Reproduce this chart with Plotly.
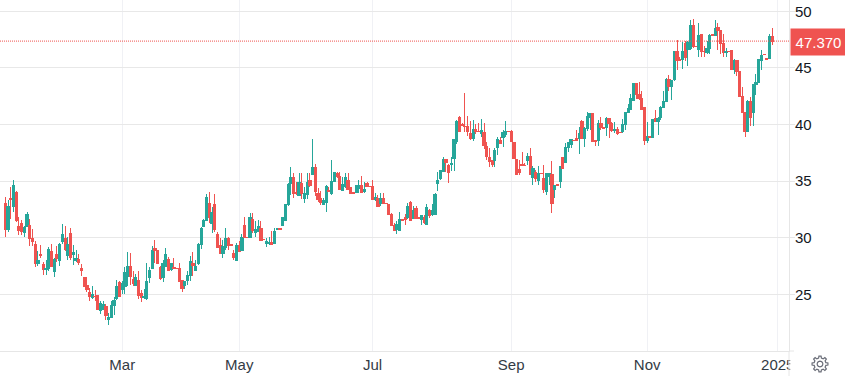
import math
import plotly.graph_objects as go

opens = [
33.0,30.7,33.5,32.75,34.0,31.0,31.3,30.5,31.0,31.05,
29.9,29.4,27.75,28.5,27.6,27.2,27.25,28.75,27.0,28.5,
27.95,29.65,29.95,28.45,30.35,28.5,27.95,28.05,27.25,26.45,
25.75,25.2,24.75,24.85,24.9,23.6,23.65,23.9,22.75,23.0,
24.05,24.6,26.05,25.45,25.7,26.6,27.5,26.3,25.75,26.2,
25.05,24.75,24.6,26.45,27.3,29.05,28.85,27.35,26.45,27.45,
28.05,27.2,27.4,27.3,27.25,26.2,25.8,26.25,26.65,27.7,
27.1,27.7,29.45,31.0,31.55,33.05,31.3,32.9,30.25,29.35,
28.6,29.15,29.95,29.38,28.65,28.0,29.3,28.9,31.05,30.05,
30.05,31.6,30.5,30.55,30.8,29.88,29.5,29.5,29.6,29.5,
30.7,30.78,31.1,31.5,32.9,34.75,35.3,34.0,33.75,34.75,
33.5,33.8,35.1,35.55,36.25,33.95,33.45,32.95,33.1,34.15,
33.95,35.0,35.65,35.4,34.2,34.55,35.1,34.4,34.0,34.0,
34.35,34.65,34.1,34.75,34.57,34.55,33.4,33.45,33.05,33.5,
33.05,32.9,32.05,31.1,30.75,30.65,31.6,31.8,31.8,33.1,
31.7,32.55,31.77,31.6,31.75,31.15,32.4,32.1,32.1,34.8,
35.2,35.85,36.95,36.35,36.45,37.0,38.5,40.65,40.0,39.85,
39.8,39.2,38.8,39.6,39.42,39.25,39.3,38.05,37.1,36.85,
36.8,37.95,38.6,38.85,39.15,39.42,39.4,38.45,36.95,36.0,
36.43,36.4,36.8,37.2,35.3,35.8,35.05,35.72,35.25,34.05,
35.45,35.55,34.25,34.67,35.0,37.1,36.65,38.0,38.2,38.63,
38.75,38.75,40.3,38.75,39.65,40.6,41.0,38.6,38.55,40.1,
39.72,39.7,40.55,40.1,39.45,39.55,39.32,39.35,40.0,41.05,
41.35,42.15,43.6,42.65,42.3,41.5,38.6,38.92,38.9,40.5,
40.3,40.65,41.55,42.05,43.95,43.4,43.95,46.45,45.72,45.75,
47.2,46.6,46.7,48.75,46.92,46.6,47.95,46.48,46.4,46.7,
47.92,47.9,48.55,48.3,47.2,46.4,46.47,46.5,44.9,45.65,
44.7,42.5,41.1,39.4,42.05,41.1,43.55,43.75,45.65,46.22,
45.82,45.8,47.75,
]
closes = [
30.7,32.8,33.35,34.6,31.5,30.6,30.55,30.9,32.05,29.9,
29.7,27.7,27.95,28.45,27.2,27.25,28.95,27.45,28.1,28.2,
29.45,30.25,28.95,29.4,28.3,28.7,28.2,27.8,27.1,25.7,
25.4,24.8,25.0,24.8,23.65,24.2,24.1,23.15,22.95,24.0,
24.45,25.7,24.8,26.0,26.9,27.5,26.6,25.95,26.45,24.9,
24.7,24.85,26.1,27.1,28.85,28.85,27.7,26.4,27.75,28.5,
27.1,27.7,27.3,27.25,26.15,25.5,26.15,26.65,27.9,27.55,
27.45,29.45,30.85,31.55,33.6,31.8,32.2,30.7,29.15,28.6,
29.2,29.95,29.35,29.33,28.25,29.35,28.8,30.05,30.0,30.0,
31.8,30.65,30.75,31.0,29.8,29.82,29.7,29.6,29.45,30.55,
30.8,30.73,31.75,32.9,34.7,35.35,33.95,33.93,34.9,33.9,
33.9,34.9,34.6,36.2,34.1,33.35,33.15,33.25,34.5,34.08,
35.0,35.8,35.45,34.25,34.7,35.35,34.3,33.95,33.95,34.65,
34.6,34.0,34.3,34.5,34.52,33.4,33.6,32.75,33.5,33.05,
33.0,32.1,31.05,30.65,31.15,31.6,31.53,31.6,32.8,31.55,
32.4,31.7,31.73,31.95,31.35,32.7,32.0,32.4,33.85,35.1,
35.9,36.95,36.65,35.75,36.6,38.7,40.3,39.4,39.95,39.8,
39.35,38.8,39.6,39.35,39.38,39.5,38.15,37.15,36.7,36.5,
37.75,38.7,38.3,39.3,39.4,39.38,38.5,37.0,35.55,35.8,
36.38,36.35,37.2,35.6,36.1,35.2,35.7,35.68,34.25,35.65,
35.65,33.0,34.65,34.62,36.3,36.15,37.95,38.4,38.65,38.57,
38.6,39.25,38.75,39.65,40.75,40.95,38.5,38.5,40.1,39.7,
39.68,40.55,40.05,39.5,39.55,39.25,39.28,40.0,41.1,41.4,
42.3,43.6,42.65,42.3,41.35,38.6,38.95,38.88,40.45,40.3,
40.5,41.5,42.0,43.95,43.4,43.85,46.45,45.7,45.68,46.45,
45.95,47.25,48.75,46.9,46.88,47.85,46.45,46.42,46.75,47.9,
47.85,48.45,48.3,47.2,46.4,46.45,46.43,44.85,45.65,44.7,
42.5,41.1,39.4,42.05,40.65,43.55,43.75,45.75,46.1,46.18,
45.78,47.75,47.37,
]
highs = [
33.6,33.3,34.5,35.1,34.1,31.85,31.6,31.0,32.25,31.7,
30.8,29.7,28.8,29.4,27.9,28.05,29.2,29.45,28.2,29.25,
29.55,31.25,31.0,30.1,30.85,29.4,28.95,28.6,27.65,26.45,
26.55,25.55,25.75,25.4,24.9,24.4,24.4,24.15,23.35,24.4,
24.8,26.25,26.15,26.15,27.4,28.7,28.65,27.05,26.8,27.05,
25.4,25.45,27.75,27.45,29.3,29.8,28.95,27.5,28.0,29.1,
28.3,27.75,28.2,27.3,27.75,26.2,26.2,27.05,28.35,28.75,
28.0,29.55,30.95,31.65,33.9,34.05,32.7,33.9,30.55,30.0,
29.8,30.9,30.05,29.4,28.9,29.55,29.7,30.35,31.8,30.05,
32.2,32.2,31.5,31.6,31.5,29.9,30.0,30.05,30.6,30.85,
30.8,30.8,31.8,32.9,34.8,36.25,35.7,34.95,35.75,35.7,
34.45,35.75,35.7,38.75,36.55,34.4,34.1,33.5,34.65,34.5,
36.9,35.85,35.85,35.85,35.4,35.7,35.7,34.4,34.0,34.7,
35.1,35.45,34.9,34.9,34.6,35.1,33.95,33.75,33.95,33.95,
33.05,32.9,32.2,31.3,31.45,32.25,31.65,32.1,33.05,33.25,
32.85,32.8,31.8,32.05,32.0,33.0,32.5,32.95,33.95,35.8,
35.95,37.15,36.95,36.5,37.15,38.75,40.4,40.75,40.15,42.8,
40.75,40.3,40.4,40.05,40.1,40.45,40.1,38.5,37.9,36.85,
37.9,38.9,38.9,39.5,40.3,39.45,39.5,38.5,37.0,36.85,
37.55,36.6,37.5,37.9,36.3,35.95,36.3,35.75,36.45,35.7,
35.75,36.75,34.7,34.7,36.35,37.15,38.35,38.5,38.75,38.65,
39.5,39.8,40.4,39.8,41.15,40.95,41.0,38.65,40.4,40.65,
39.8,40.65,40.6,40.25,40.25,39.8,39.35,40.45,41.1,41.85,
42.7,43.6,43.65,43.75,43.0,41.55,40.25,39.0,40.5,41.25,
40.65,41.6,43.0,44.1,44.4,43.95,46.5,47.5,45.95,47.3,
47.4,47.4,49.2,49.3,46.95,48.95,47.95,46.95,47.4,48.0,
48.0,49.25,48.95,48.35,48.0,46.75,46.5,46.5,45.8,45.7,
44.75,43.3,41.1,42.2,42.45,43.6,44.5,45.8,46.6,46.25,
45.85,48.0,48.5,
]
lows = [
30.1,30.55,31.65,32.3,31.35,30.25,30.25,30.1,30.95,29.3,
29.25,27.4,27.55,28.2,26.7,26.7,27.05,27.4,26.55,27.9,
27.55,29.45,28.8,28.05,28.05,27.6,27.85,27.6,26.65,25.7,
25.25,24.45,24.55,24.45,23.65,23.3,23.6,22.75,22.3,22.9,
23.2,24.5,24.8,25.0,25.0,25.7,25.85,25.7,25.7,24.55,
24.3,24.55,24.5,26.0,27.25,27.75,27.7,26.3,26.1,27.45,
27.05,27.05,27.2,27.25,26.15,25.25,25.45,25.85,26.2,26.6,
27.05,27.6,29.05,30.95,31.45,31.3,30.45,30.55,29.1,28.55,
28.2,28.95,28.9,29.3,28.05,27.95,28.7,28.8,30.0,29.98,
29.95,30.4,30.1,30.5,29.75,29.8,29.2,29.4,29.45,29.45,
30.65,30.72,31.05,31.5,32.8,33.8,33.55,33.8,33.75,33.45,
33.1,33.45,34.45,35.55,33.7,33.2,32.9,32.9,32.3,34.1,
33.8,34.95,35.25,34.25,34.1,34.4,34.2,33.95,33.95,33.95,
33.95,33.95,33.95,34.45,34.5,33.35,33.25,32.7,32.8,33.0,
33.0,32.05,31.0,30.6,30.35,30.6,31.5,31.15,31.65,31.5,
31.65,31.7,31.7,31.15,31.2,31.15,31.75,31.9,32.05,34.1,
35.1,35.8,35.8,34.8,35.9,35.9,38.25,39.4,39.95,39.3,
38.95,38.65,38.55,39.2,39.35,38.9,37.8,36.85,36.25,36.25,
36.25,37.3,38.25,38.05,38.9,39.35,38.5,37.0,35.55,35.55,
36.35,36.35,36.4,35.55,34.7,34.9,34.7,35.65,33.95,33.8,
34.7,32.15,33.5,34.6,34.4,36.05,36.6,37.6,37.9,38.55,
38.6,37.4,38.7,38.0,39.45,39.5,38.5,38.1,38.1,39.55,
39.7,39.0,38.85,39.35,39.25,39.1,39.25,39.25,39.55,41.0,
41.3,42.05,42.3,42.2,41.25,38.2,38.4,38.85,38.9,40.3,
39.05,40.4,41.5,42.05,43.0,42.2,43.85,44.85,45.6,44.9,
45.6,45.2,46.55,46.75,46.85,45.95,45.95,46.0,46.25,46.25,
47.8,47.85,46.55,46.25,45.95,46.0,46.4,44.8,44.45,44.3,
42.5,41.1,38.9,39.4,39.9,39.85,42.65,43.75,44.85,46.15,
45.75,45.75,47.05,
]
assert len(opens) == len(closes) == len(highs) == len(lows)

month_ticks = [43, 86, 135, 186, 236, 284]
month_labels = ["Mar", "May", "Jul", "Sep", "Nov", "2025"]
price_ticks = [25, 30, 35, 40, 45, 50]
price_labels = ["25", "30", "35", "40", "45", "50"]

UP = "#26a69a"
DOWN = "#ef5350"
TEXT = "#131722"
FONT = "Liberation Sans"
PLOT_W, PLOT_H = 789, 351
WIDTH, HEIGHT = 845, 376

bars = list(range(len(closes)))
step = 767 / (len(closes) - 1)


def gear_path(cx, cy, r_out=8.0, r_root=6.0, r_hole=2.8, teeth=8):
    """Outline of the settings icon, in paper coordinates."""
    def pt(px, py):
        return f"{px / PLOT_W:.5f},{(PLOT_H - py) / PLOT_H:.5f}"
    parts = []
    for t in range(teeth):
        base = 2 * math.pi * t / teeth
        seg = 2 * math.pi / teeth
        for off, r in ((-0.30, r_root), (-0.17, r_out), (0.17, r_out), (0.30, r_root)):
            a = base + off * seg
            parts.append(pt(cx + r * math.cos(a), cy + r * math.sin(a)))
    outer = "M" + "L".join(parts) + "Z"
    hole = [pt(cx + r_hole * math.cos(2 * math.pi * k / 24),
               cy + r_hole * math.sin(2 * math.pi * k / 24)) for k in range(24)]
    return outer + "M" + "L".join(hole) + "Z"


fig = go.Figure(go.Candlestick(
    x=bars, open=opens, high=highs, low=lows, close=closes,
    increasing=dict(line=dict(color=UP, width=1), fillcolor=UP),
    decreasing=dict(line=dict(color=DOWN, width=1), fillcolor=DOWN),
    whiskerwidth=0, hoverinfo="skip", showlegend=False,
))

last = closes[-1]
fig.update_layout(
    width=WIDTH, height=HEIGHT,
    margin=dict(l=0, r=WIDTH - PLOT_W, t=0, b=HEIGHT - PLOT_H, pad=0),
    paper_bgcolor="white", plot_bgcolor="white",
    font=dict(family=FONT, size=15, color=TEXT),
    showlegend=False, boxgap=0.18, boxgroupgap=0,
    xaxis=dict(
        range=[-5.3 / step, (PLOT_W - 5.3) / step],
        tickmode="array", tickvals=month_ticks, ticktext=month_labels,
        rangeslider=dict(visible=False), showgrid=True, gridcolor="#f0f1f5", gridwidth=1,
        zeroline=False, showline=True, linecolor="#e6e6e6", linewidth=1,
        ticks="", tickfont=dict(family=FONT, size=15, color="#333b45"),
        fixedrange=True,
    ),
    yaxis=dict(
        side="right", range=[20.0, 51.0],
        tickmode="array", tickvals=price_ticks, ticktext=price_labels,
        showgrid=True, gridcolor="#e8e8e8", gridwidth=1,
        zeroline=False, showline=True, linecolor="#e6e6e6", linewidth=1,
        ticks="outside", ticklen=5, tickcolor="#e6e6e6", tickwidth=1,
        ticklabelstandoff=-3,
        tickfont=dict(family=FONT, size=15, color=TEXT),
        fixedrange=True,
    ),
    shapes=[
        dict(type="line", xref="paper", yref="y", x0=0, x1=1, y0=last, y1=last,
             line=dict(color=DOWN, width=1, dash="1px,1px")),
        dict(type="rect", xref="paper", yref="paper", x0=1.0015, x1=1.02,
             y0=-25 / PLOT_H, y1=-1 / PLOT_H, fillcolor="white",
             line=dict(width=0), layer="above"),
        dict(type="line", xref="paper", yref="paper", x0=1, x1=1,
             y0=-25 / PLOT_H, y1=0, line=dict(color="#e6e6e6", width=1), layer="above"),
        dict(type="line", xref="paper", yref="paper", x0=1, x1=1 + 5 / PLOT_W,
             y0=0, y1=0, line=dict(color="#e6e6e6", width=1), layer="above"),
        dict(type="path", xref="paper", yref="paper", path=gear_path(820, 364),
             line=dict(color="#6a6d78", width=1.2), fillcolor="rgba(0,0,0,0)", layer="above"),
    ],
    annotations=[
        dict(xref="paper", yref="y", x=1, y=last, xanchor="left", yanchor="middle",
             xshift=1, yshift=-1, text=f"{last:.3f}", showarrow=False, width=55, height=26,
             bgcolor=DOWN, borderpad=0, align="center",
             font=dict(family=FONT, size=15, color="white")),
    ],
)
fig.write_html(
    "out.html",
    config=dict(displayModeBar=False),
    post_script=(
        "document.body.style.margin='0';document.body.style.overflow='hidden';"
        "document.querySelectorAll('.boxes path').forEach(function(p){p.style.shapeRendering='crispEdges';});"
    ),
)
